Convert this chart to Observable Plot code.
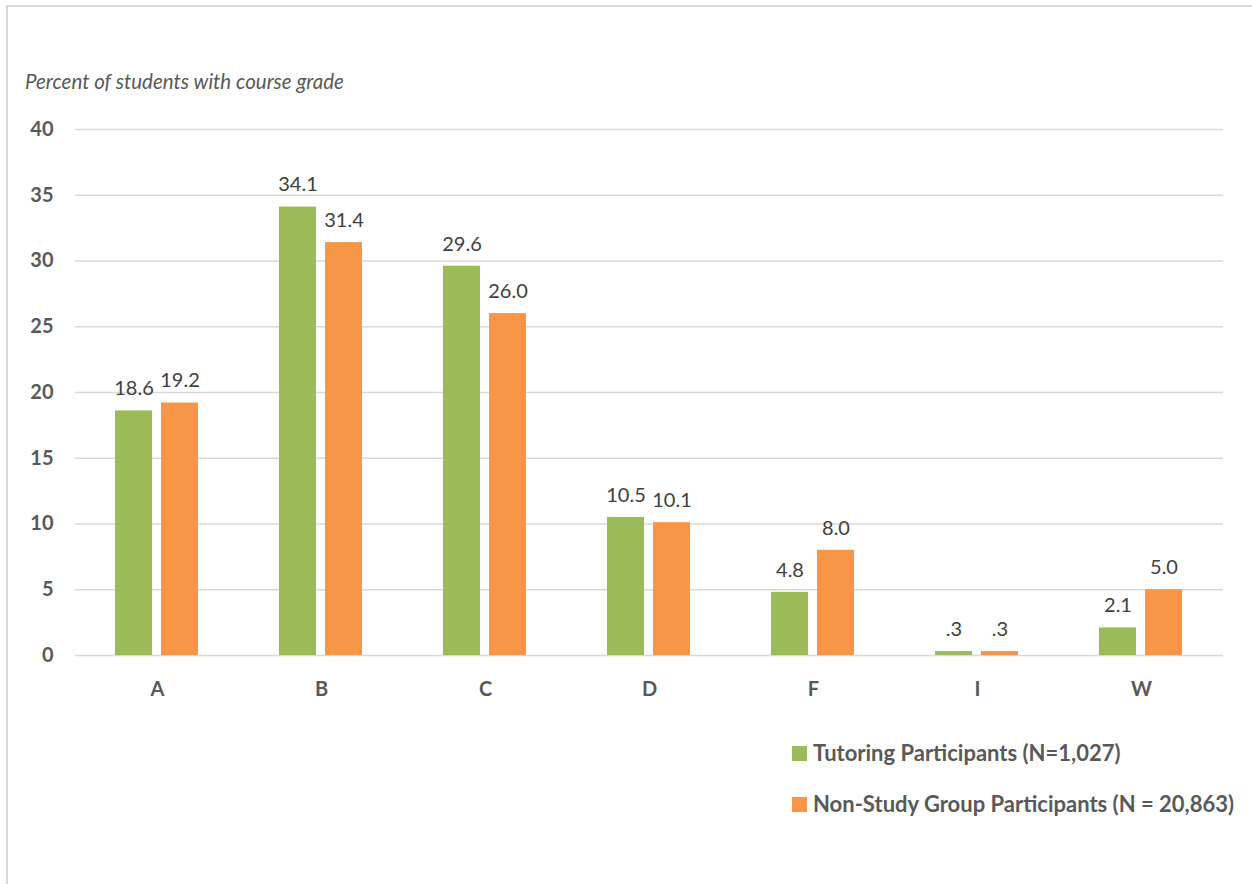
<!DOCTYPE html>
<html>
<head>
<meta charset="utf-8">
<script src="https://cdn.jsdelivr.net/npm/d3@7"></script>
<script src="https://cdn.jsdelivr.net/npm/@observablehq/plot@0.6"></script>
<style>
  html, body { margin: 0; padding: 0; background: #fff; }
  body { width: 1252px; height: 884px; position: relative; overflow: hidden; font-family: Lato, "Open Sans", sans-serif; }
  #frame { position: absolute; left: 6px; top: 5px; width: 1400px; height: 1000px; border: 2px solid #d9d9d9; box-sizing: border-box; }
  #ytitle { position: absolute; left: 25px; top: 69px; font-size: 20.5px; line-height: 24px; font-style: italic; color: #595959; }
  #chart { position: absolute; left: 0; top: 0; }
  .leg { position: absolute; left: 792px; height: 26px; font-size: 22px; line-height: 26px; font-weight: bold; color: #595959; display: flex; align-items: center; white-space: nowrap; }
  .leg .sw { width: 15px; height: 15px; margin-right: 6px; }
</style>
</head>
<body>
<div id="frame"></div>
<div id="chart"></div>
<div id="ytitle">Percent of students with course grade</div>
<div id="legend"></div>
<script>
const grades = ["A", "B", "C", "D", "F", "I", "W"];
const seriesNames = ["Tutoring Participants (N=1,027)", "Non-Study Group Participants (N = 20,863)"];
const seriesColors = ["#9BBB59", "#F79646"];
const tutoring = [18.6, 34.1, 29.6, 10.5, 4.8, 0.3, 2.1];
const nonStudy = [19.2, 31.4, 26.0, 10.1, 8.0, 0.3, 5.0];
const yTicks = [0, 5, 10, 15, 20, 25, 30, 35, 40];

const data = [];
grades.forEach((g, i) => {
  data.push({grade: g, series: seriesNames[0], value: tutoring[i]});
  data.push({grade: g, series: seriesNames[1], value: nonStudy[i]});
});
const fmt = v => v < 1 ? v.toFixed(1).replace(/^0/, "") : v.toFixed(1);

const chart = Plot.plot({
  width: 1252,
  height: 720,
  marginLeft: 73,
  marginRight: 27,
  marginTop: 129,
  marginBottom: 65,
  style: {fontFamily: "Lato, 'Open Sans', sans-serif", fontSize: "20px", color: "#595959", background: "transparent"},
  fx: {domain: grades, padding: 0, label: null, axis: null},
  x: {domain: seriesNames, axis: null, paddingInner: 0.19, paddingOuter: 0.845},
  y: {domain: [0, 40], axis: null},
  color: {domain: seriesNames, range: seriesColors},
  marks: [
    Plot.gridY(yTicks, {stroke: "#d9d9d9", strokeOpacity: 1, strokeWidth: 1.5}),
    Plot.axisY(yTicks, {tickSize: 0, tickPadding: 22, fontWeight: "bold", fontSize: 20, fill: "#595959", label: null}),
    Plot.axisFx({anchor: "bottom", tickSize: 0, tickPadding: 26, fontWeight: "bold", fontSize: 20, fill: "#595959", label: null}),
    Plot.barY(data, {fx: "grade", x: "series", y: "value", fill: "series"}),
    Plot.text(data, {fx: "grade", x: "series", y: "value", text: d => fmt(d.value), dy: -22, fontSize: 20, fill: "#404040"})
  ]
});
document.getElementById("chart").appendChild(chart);

const legend = document.getElementById("legend");
const legendTops = [740, 791];
seriesNames.forEach((name, i) => {
  const row = document.createElement("div");
  row.className = "leg";
  row.style.top = legendTops[i] + "px";
  const sw = document.createElement("div");
  sw.className = "sw";
  sw.style.background = seriesColors[i];
  const t = document.createElement("span");
  t.textContent = name;
  row.appendChild(sw);
  row.appendChild(t);
  legend.appendChild(row);
});
</script>
</body>
</html>
